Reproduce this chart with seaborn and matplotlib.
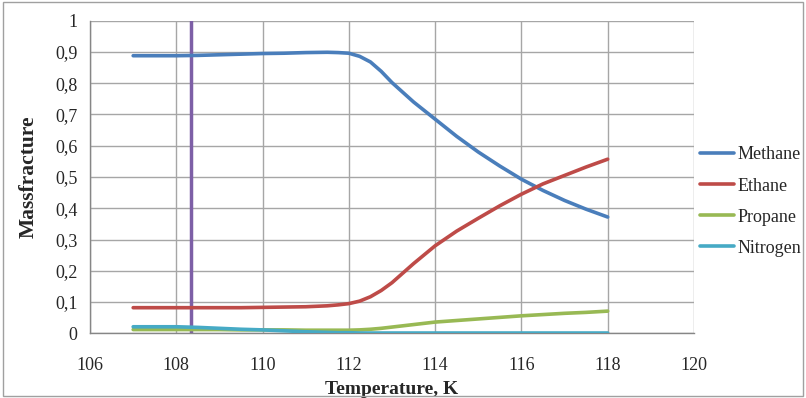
import numpy as np
import pandas as pd
import matplotlib
matplotlib.use("Agg")
import matplotlib.pyplot as plt
import seaborn as sns

# temperatures (K) and mass fractions
temperatura = [107, 107.5, 108, 108.5, 109, 109.5, 110, 110.5, 111, 111.5, 111.75, 112, 112.25,
               112.5, 112.75, 113, 113.5, 114, 114.5, 115, 115.5, 116, 116.5, 117, 117.5, 118]
metano = [0.888, 0.888, 0.888, 0.889, 0.891, 0.893, 0.895, 0.896, 0.898, 0.899, 0.898, 0.896, 0.886,
          0.868, 0.838, 0.802, 0.740, 0.685, 0.630, 0.580, 0.535, 0.493, 0.457, 0.425, 0.397, 0.372]
etano = [0.082, 0.082, 0.082, 0.082, 0.082, 0.082, 0.083, 0.084, 0.085, 0.088, 0.091, 0.095, 0.103,
         0.117, 0.137, 0.162, 0.223, 0.280, 0.327, 0.368, 0.408, 0.445, 0.478, 0.505, 0.532, 0.557]
propano = [0.012, 0.012, 0.012, 0.012, 0.012, 0.011, 0.011, 0.011, 0.010, 0.010, 0.010, 0.010, 0.011,
           0.013, 0.016, 0.020, 0.028, 0.036, 0.041, 0.046, 0.051, 0.056, 0.060, 0.064, 0.067, 0.071]
nitrogenio = [0.021, 0.021, 0.021, 0.019, 0.016, 0.013, 0.011, 0.008, 0.005, 0.003, 0.002, 0.002, 0.001,
              0.001, 0.001, 0.001, 0.001, 0.001, 0.001, 0.001, 0.001, 0.001, 0.001, 0.001, 0.001, 0.001]

series = ['Methane', 'Ethane', 'Propane', 'Nitrogen']
cores = ['#4a7ebb', '#be4b48', '#98b954', '#46aac5']
linha_vertical = 108.35

x_ticks = [106, 108, 110, 112, 114, 116, 118, 120]
y_ticks = [0, 0.1, 0.2, 0.3, 0.4, 0.5, 0.6, 0.7, 0.8, 0.9, 1]
y_labels = ['0', '0,1', '0,2', '0,3', '0,4', '0,5', '0,6', '0,7', '0,8', '0,9', '1']

dados = pd.DataFrame({'Temperatura': temperatura, 'Methane': metano, 'Ethane': etano,
                      'Propane': propano, 'Nitrogen': nitrogenio})
dados_long = dados.melt(id_vars='Temperatura', var_name='Serie', value_name='Fracao')

sns.set_style('white')
plt.rcParams['font.family'] = ['Liberation Serif', 'DejaVu Serif']

fig = plt.figure(figsize=(8.06, 3.98), dpi=100)
ax = fig.add_axes([0.1117, 0.1625, 0.7493, 0.7855])

# gridlines
for xv in x_ticks:
    ax.axvline(xv, color='#a6a6a6', lw=1, zorder=0)
for yv in y_ticks:
    ax.axhline(yv, color='#a6a6a6', lw=1, zorder=0)

ax.axvline(linha_vertical, color='#7d5fa6', lw=2.5, zorder=1)

sns.lineplot(data=dados_long, x='Temperatura', y='Fracao', hue='Serie',
             hue_order=series, palette=cores, lw=2.6, ax=ax, zorder=3)

ax.set_xlim(106, 120)
ax.set_ylim(0, 1)
ax.set_xticks(x_ticks)
ax.set_xticklabels([str(v) for v in x_ticks], fontsize=13)
ax.set_yticks(y_ticks)
ax.set_yticklabels(y_labels, fontsize=13)
ax.tick_params(axis='y', length=0, pad=9)
ax.tick_params(axis='x', length=0, pad=17)

for lado in ['top', 'right']:
    ax.spines[lado].set_visible(False)
for lado in ['left', 'bottom']:
    ax.spines[lado].set_color('#868686')
    ax.spines[lado].set_linewidth(1)

ax.set_xlabel('Temperature, K', fontsize=14, fontweight='bold', labelpad=5)
ax.set_ylabel('Massfracture', fontsize=15.5, fontweight='bold', labelpad=12)

ax.legend(loc='upper left', bbox_to_anchor=(0.869, 0.632), bbox_transform=fig.transFigure,
          frameon=False, fontsize=13, handlelength=1.85, handletextpad=0.2,
          labelspacing=0.78, borderpad=0, borderaxespad=0)

# chart border
fig.patches.append(plt.Rectangle((0.004, 0.004), 0.992, 0.99, transform=fig.transFigure,
                                 fill=False, edgecolor='#a0a0a0', lw=1))

fig.savefig('out.png', dpi=100)
